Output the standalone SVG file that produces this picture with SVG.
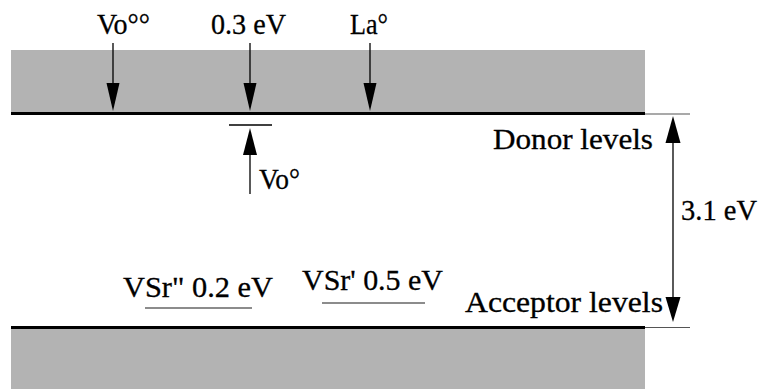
<svg xmlns="http://www.w3.org/2000/svg" width="762" height="389" viewBox="0 0 762 389">
<style>
.band{fill:#b3b3b3}
.lvl{stroke:#000;stroke-width:3}
.thin{stroke:#555;stroke-width:1.2}
.ln{stroke:#000;stroke-width:1.3;fill:none}
.ul{stroke:#666;stroke-width:1.3}
.head{fill:#000}
.t{font-family:'Liberation Serif','Times New Roman',serif;font-size:29px;fill:#000;stroke:#000;stroke-width:0.3}
</style>
<rect width="762" height="389" fill="#fff"/>
<g id="conduction-band">
<rect class="band" x="11" y="50" width="634" height="62"/>
<line class="lvl" x1="11" y1="113.5" x2="645" y2="113.5"/>
<line class="thin" x1="645" y1="114" x2="690" y2="114"/>
</g>
<g id="valence-band">
<rect class="band" x="11" y="329" width="634" height="60"/>
<line class="lvl" x1="11" y1="327.5" x2="645" y2="327.5"/>
<line class="thin" x1="645" y1="327.5" x2="690" y2="327.5"/>
</g>
<g id="connectors">
<line class="ln" x1="113" y1="43" x2="113" y2="86"/>
<polygon class="head" points="106.5,83 119.5,83 113,111"/>
<line class="ln" x1="250" y1="43" x2="250" y2="86"/>
<polygon class="head" points="243.5,83 256.5,83 250,111"/>
<line class="ln" x1="370" y1="43" x2="370" y2="86"/>
<polygon class="head" points="363.5,83 376.5,83 370,111"/>
<line class="ln" x1="250" y1="152" x2="250" y2="194"/>
<polygon class="head" points="243,155 257,155 250,128"/>
<line class="ln" x1="673" y1="140" x2="673" y2="300"/>
<polygon class="head" points="665.5,143 680.5,143 673,116"/>
<polygon class="head" points="665.5,297 680.5,297 673,322"/>
</g>
<g id="vo2">
<text class="t" x="97" y="34" textLength="53" lengthAdjust="spacingAndGlyphs">Vo°°</text>
</g>
<g id="e03">
<text class="t" x="211" y="34" textLength="75" lengthAdjust="spacingAndGlyphs">0.3 eV</text>
</g>
<g id="la">
<text class="t" x="350" y="34" textLength="38" lengthAdjust="spacingAndGlyphs">La°</text>
</g>
<g id="vo1">
<line class="ln" x1="229" y1="125" x2="272" y2="125"/>
<text class="t" x="259" y="189" textLength="41" lengthAdjust="spacingAndGlyphs">Vo°</text>
</g>
<g id="donor">
<text class="t" x="493" y="149" textLength="160" lengthAdjust="spacingAndGlyphs">Donor levels</text>
</g>
<g id="gap">
<text class="t" x="681" y="220" textLength="76" lengthAdjust="spacingAndGlyphs">3.1 eV</text>
</g>
<g id="acceptor">
<text class="t" x="465" y="312" textLength="198" lengthAdjust="spacingAndGlyphs">Acceptor levels</text>
</g>
<g id="vsr2">
<text class="t" x="123" y="297" textLength="150" lengthAdjust="spacingAndGlyphs">VSr" 0.2 eV</text>
<line class="ul" x1="145" y1="308" x2="252" y2="308"/>
</g>
<g id="vsr1">
<text class="t" x="302" y="290" textLength="141" lengthAdjust="spacingAndGlyphs">VSr' 0.5 eV</text>
<line class="ul" x1="322" y1="303" x2="425" y2="303"/>
</g>
</svg>
